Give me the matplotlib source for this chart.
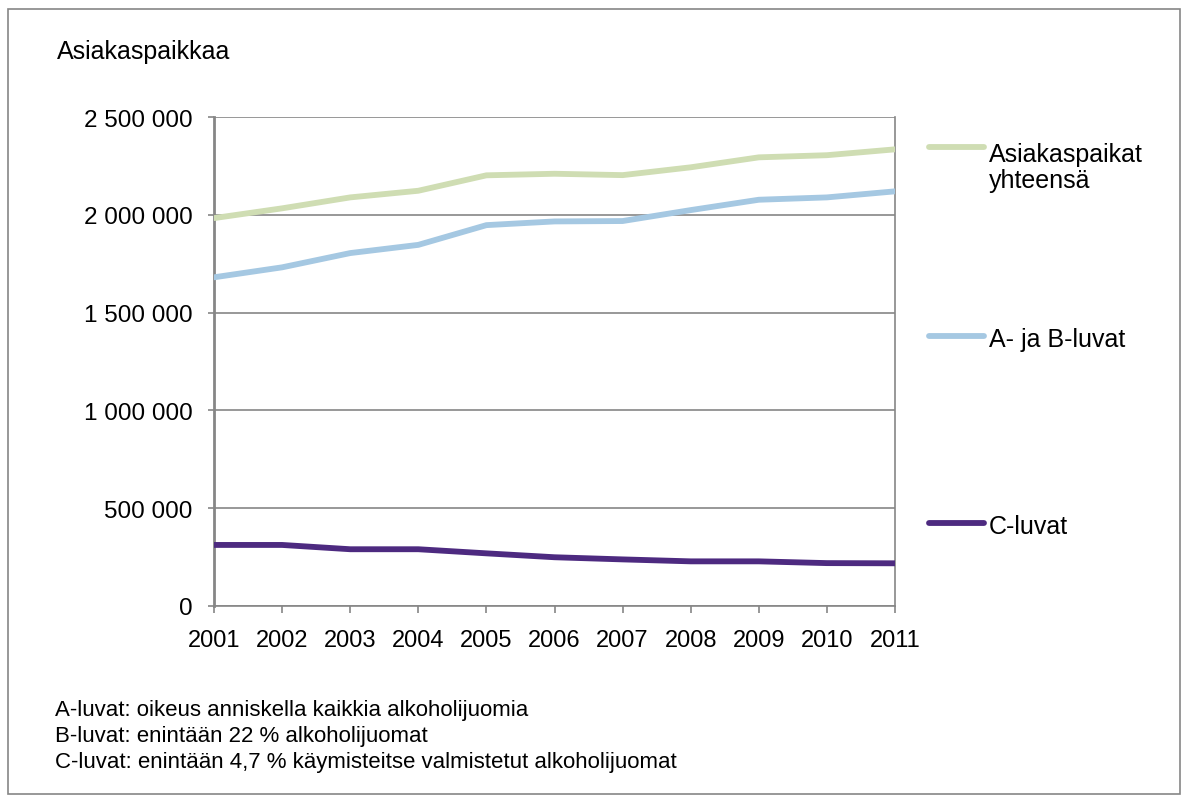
import matplotlib.pyplot as plt
from matplotlib.lines import Line2D
from matplotlib.patches import Rectangle
from matplotlib.ticker import FuncFormatter

plt.rcParams['font.family'] = ['Liberation Sans', 'DejaVu Sans']

years = [2001, 2002, 2003, 2004, 2005, 2006, 2007, 2008, 2009, 2010, 2011]
yhteensa = [1984000, 2034000, 2090000, 2124000, 2203000, 2211000, 2204000, 2244000, 2295000, 2306000, 2336000]
ab_luvat = [1681000, 1732000, 1805000, 1847000, 1948000, 1967000, 1969000, 2025000, 2078000, 2090000, 2121000]
c_luvat = [311000, 311000, 289000, 289000, 268000, 248000, 237000, 227000, 227000, 218000, 217000]

names = ['Asiakaspaikat\nyhteensä', 'A- ja B-luvat', 'C-luvat']
colors = ['#CFDDB3', '#A5C8E2', '#4D2A80']
notes = [
    'A-luvat: oikeus anniskella kaikkia alkoholijuomia',
    'B-luvat: enintään 22 % alkoholijuomat',
    'C-luvat: enintään 4,7 % käymisteitse valmistetut alkoholijuomat',
]

W, H = 1188, 803
fig = plt.figure(figsize=(W / 100, H / 100), dpi=100)
ax = fig.add_axes([214 / W, 1 - 606.7 / H, (895 - 214) / W, (606.7 - 118.3) / H])

grey = '#868686'
for series, c in zip([yhteensa, ab_luvat, c_luvat], colors):
    ax.plot(years, series, color=c, lw=4.2, solid_capstyle='round', zorder=3)

ax.set_xlim(2001, 2011)
ax.set_ylim(0, 2500000)
ax.set_xticks(years)
ax.set_yticks(range(0, 2500001, 500000))
ax.yaxis.set_major_formatter(FuncFormatter(lambda v, p: f'{v:,.0f}'.replace(',', ' ')))
ax.grid(axis='y', color=grey, lw=1.2)
ax.set_axisbelow(True)
ax.spines['top'].set_visible(False)
for s in ['left', 'right', 'bottom']:
    ax.spines[s].set_color(grey)
    ax.spines[s].set_linewidth(1.2)
ax.spines['left'].set_linewidth(2)
ax.tick_params(axis='y', length=4.5, width=1.2, color=grey, pad=11, labelsize=17.5)
ax.tick_params(axis='x', length=5, width=1.2, color=grey, pad=12, labelsize=17)

fig.text(57 / W, 1 - 52 / H, 'Asiakaspaikkaa', fontsize=18, va='center', ha='left')

# legend drawn by hand to the right of the plot
leg_y = [148, 337, 524]
txt_y = [168, 340, 527]
for name, c, ly, ty in zip(names, colors, leg_y, txt_y):
    fig.add_artist(Line2D([929 / W, 984 / W], [1 - ly / H, 1 - ly / H], color=c, lw=4.2,
                          solid_capstyle='round'))
    fig.text(989 / W, 1 - ty / H, name, fontsize=18, va='center', ha='left', linespacing=1.1)

for i, n in enumerate(notes):
    fig.text(55 / W, 1 - (711 + 26 * i) / H, n, fontsize=16, va='center', ha='left')

fig.add_artist(Rectangle((8 / W, 1 - 795 / H), 1172 / W, 785 / H, fill=False,
                         edgecolor=grey, lw=1.2, transform=fig.transFigure))

fig.savefig('out.png', dpi=100)
